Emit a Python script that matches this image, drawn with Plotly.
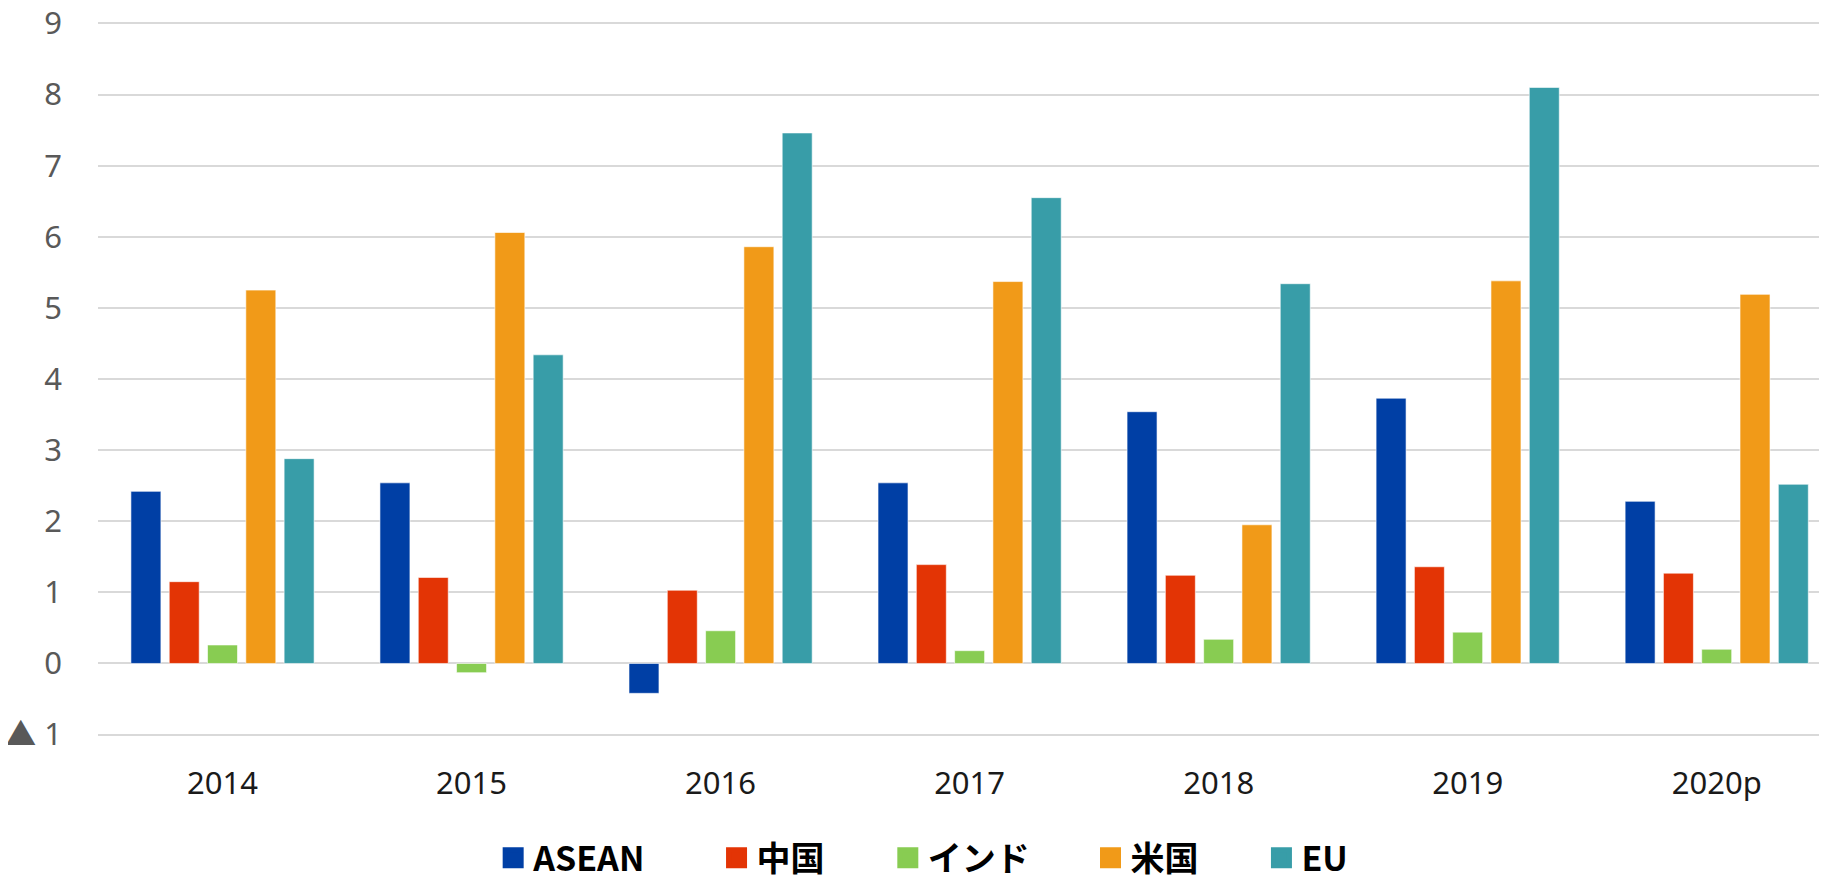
import plotly.graph_objects as go

years = ["2014", "2015", "2016", "2017", "2018", "2019", "2020p"]
asean = [2.42, 2.54, -0.42, 2.54, 3.54, 3.73, 2.28]
china = [1.15, 1.21, 1.03, 1.39, 1.24, 1.36, 1.27]
india = [0.26, -0.13, 0.46, 0.18, 0.34, 0.44, 0.20]
usa = [5.25, 6.06, 5.86, 5.37, 1.95, 5.38, 5.19]
eu = [2.88, 4.34, 7.46, 6.55, 5.34, 8.10, 2.52]

series_names = ["ASEAN", "中国", "インド", "米国", "EU"]
series_colors = ["#003FA5", "#E33405", "#88CC52", "#F19A18", "#389DA8"]
series_values = [asean, china, india, usa, eu]
legend_x = [0.2275, 0.3561, 0.4547, 0.5714, 0.6698]

ytick_vals = [-1, 0, 1, 2, 3, 4, 5, 6, 7, 8, 9]
ytick_text = ["▲ 1", "0", "1", "2", "3", "4", "5", "6", "7", "8", "9"]

fig = go.Figure()
for name, color, vals in zip(series_names, series_colors, series_values):
    fig.add_trace(go.Bar(
        x=years, y=vals, name=name, showlegend=False,
        marker=dict(color=color, line=dict(color="rgba(255,255,255,0.6)", width=1)),
    ))

legend_font = dict(size=34, color="black", family="Noto Sans CJK JP, Noto Sans, sans-serif", weight="bold")
legend_layouts = {}
for i, (name, color, lx) in enumerate(zip(series_names, series_colors, legend_x)):
    key = "legend" if i == 0 else f"legend{i+1}"
    fig.add_trace(go.Scatter(
        x=[None], y=[None], mode="markers", name=name, showlegend=True,
        legend=key,
        marker=dict(symbol="square", size=16, color=color, line=dict(color=color, width=5)),
    ))
    legend_layouts[key] = dict(
        orientation="h", x=lx, xanchor="left", y=-0.171, yanchor="middle",
        font=legend_font, itemsizing="trace", bgcolor="rgba(0,0,0,0)",
    )

fig.update_layout(
    width=1827, height=876,
    margin=dict(l=90, r=0, t=14, b=148, autoexpand=False),
    paper_bgcolor="white", plot_bgcolor="white",
    barmode="group", bargap=0.231, bargroupgap=0.217,
    font=dict(family="Noto Sans, Noto Sans CJK JP, sans-serif"),
    showlegend=True,
    **legend_layouts,
)
fig.update_xaxes(
    type="category", range=[-0.5, 6.475],
    showgrid=False, showline=False, ticks="",
    tickfont=dict(size=31, color="#1A1A1A"),
    ticklabelstandoff=26, ticklabeloverflow="allow",
)
fig.update_yaxes(
    range=[-1.02, 9.02],
    tickvals=ytick_vals, ticktext=ytick_text,
    showgrid=True, gridcolor="#D9D9D9", gridwidth=1.5,
    zeroline=True, zerolinecolor="#D9D9D9", zerolinewidth=1.5,
    showline=False, ticks="",
    tickfont=dict(size=31, color="#595959"),
    ticklabelstandoff=35, ticklabeloverflow="allow",
)

fig.write_html("out.html")
